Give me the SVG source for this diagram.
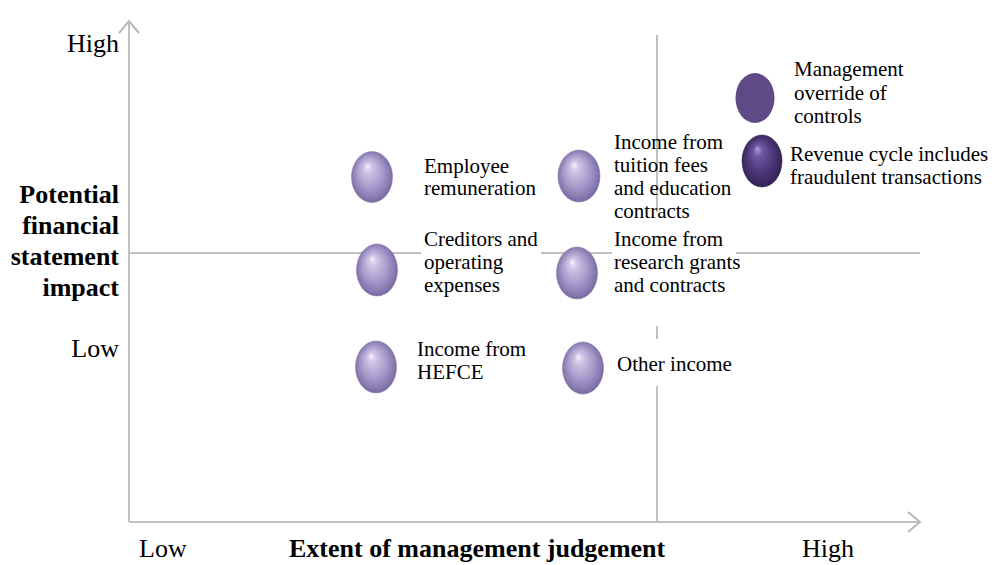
<svg xmlns="http://www.w3.org/2000/svg" width="995" height="565" viewBox="0 0 995 565">
  <defs>
    <style>
      .txt { font-family: "Liberation Serif", "Times New Roman", serif; font-size: 21px; fill: #000; }
      .axis { font-family: "Liberation Serif", "Times New Roman", serif; font-size: 26px; fill: #000; }
      .title { font-family: "Liberation Serif", "Times New Roman", serif; font-size: 26px; font-weight: bold; fill: #000; }
      .grid { stroke: #c0c0c0; stroke-width: 2; fill: none; }
      .mask { fill: #ffffff; stroke: none; }
      .ball { fill: url(#ballLight); stroke: #8a7cae; stroke-width: 0.6; }
      .ballDark { fill: url(#ballDark); stroke: #2e2048; stroke-width: 0.6; }
      .flat { fill: #5f4a87; }
    </style>
    <radialGradient id="ballLight" cx="50%" cy="50%" r="55%" fx="38%" fy="28%">
      <stop offset="0" stop-color="#f6f2fc"/>
      <stop offset="0.18" stop-color="#cfc5e6"/>
      <stop offset="0.55" stop-color="#a99bcb"/>
      <stop offset="0.85" stop-color="#8576ad"/>
      <stop offset="1" stop-color="#6a5a92"/>
    </radialGradient>
    <radialGradient id="ballDark" cx="50%" cy="50%" r="55%" fx="38%" fy="26%">
      <stop offset="0" stop-color="#b3a2d6"/>
      <stop offset="0.2" stop-color="#6f58a0"/>
      <stop offset="0.6" stop-color="#4d3778"/>
      <stop offset="0.9" stop-color="#35245a"/>
      <stop offset="1" stop-color="#271a44"/>
    </radialGradient>
    <marker id="openHead" markerUnits="userSpaceOnUse" markerWidth="30" markerHeight="30" viewBox="-15 -15 30 30" refX="0" refY="0" orient="auto">
      <path d="M-12,-10 L0,0 L-12,10" fill="none" stroke="#b8b8b8" stroke-width="2"/>
    </marker>
  </defs>

  <rect width="995" height="565" fill="#ffffff"/>

  <!-- axes and quadrant dividers -->
  <g id="connectors">
    <line class="grid" x1="129" y1="253" x2="920" y2="253"/>
    <line class="grid" x1="657" y1="35" x2="657" y2="522"/>
    <line class="grid" x1="129" y1="522" x2="129" y2="21" marker-end="url(#openHead)"/>
    <line class="grid" x1="129" y1="522" x2="920" y2="522" marker-end="url(#openHead)"/>
  </g>

  <!-- axis labels -->
  <g id="axis-labels">
    <text class="axis" x="119" y="52" text-anchor="end">High</text>
    <text class="title" x="119" y="203" text-anchor="end">Potential</text>
    <text class="title" x="119" y="234" text-anchor="end">financial</text>
    <text class="title" x="119" y="265" text-anchor="end">statement</text>
    <text class="title" x="119" y="296" text-anchor="end">impact</text>
    <text class="axis" x="119" y="357" text-anchor="end">Low</text>
    <text class="axis" x="139" y="557">Low</text>
    <text class="title" x="289" y="557">Extent of management judgement</text>
    <text class="axis" x="802" y="557">High</text>
  </g>

  <g id="employee-remuneration">
    <ellipse class="ball" cx="372" cy="177" rx="20.5" ry="25.5"/>
    <text class="txt" x="424" y="173">Employee</text>
    <text class="txt" x="424" y="195">remuneration</text>
  </g>

  <g id="creditors-operating">
    <rect class="mask" x="421" y="227" width="120" height="73"/>
    <ellipse class="ball" cx="377" cy="270" rx="20.5" ry="26"/>
    <text class="txt" x="424" y="246">Creditors and</text>
    <text class="txt" x="424" y="269">operating</text>
    <text class="txt" x="424" y="292">expenses</text>
  </g>

  <g id="income-hefce">
    <ellipse class="ball" cx="376" cy="367" rx="20.5" ry="26"/>
    <text class="txt" x="417" y="356">Income from</text>
    <text class="txt" x="417" y="379">HEFCE</text>
  </g>

  <g id="income-research">
    <rect class="mask" x="612" y="212" width="124" height="114"/>
    <ellipse class="ball" cx="577" cy="273" rx="20.5" ry="26"/>
    <text class="txt" x="614" y="246">Income from</text>
    <text class="txt" x="614" y="269">research grants</text>
    <text class="txt" x="614" y="292">and contracts</text>
  </g>

  <g id="income-tuition">
    <ellipse class="ball" cx="579" cy="176" rx="21" ry="26"/>
    <text class="txt" x="614" y="149">Income from</text>
    <text class="txt" x="614" y="172">tuition fees</text>
    <text class="txt" x="614" y="195">and education</text>
    <text class="txt" x="614" y="218">contracts</text>
  </g>

  <g id="other-income">
    <rect class="mask" x="612" y="339" width="134" height="47"/>
    <ellipse class="ball" cx="583" cy="368" rx="20.5" ry="26"/>
    <text class="txt" x="617" y="371">Other income</text>
  </g>

  <g id="management-override">
    <ellipse class="flat" cx="755" cy="98" rx="19.5" ry="25"/>
    <text class="txt" x="794" y="76">Management</text>
    <text class="txt" x="794" y="100">override of</text>
    <text class="txt" x="794" y="123">controls</text>
  </g>

  <g id="revenue-fraud">
    <ellipse class="ballDark" cx="762" cy="161" rx="20" ry="26"/>
    <text class="txt" x="790" y="161">Revenue cycle includes</text>
    <text class="txt" x="790" y="184">fraudulent transactions</text>
  </g>
</svg>
